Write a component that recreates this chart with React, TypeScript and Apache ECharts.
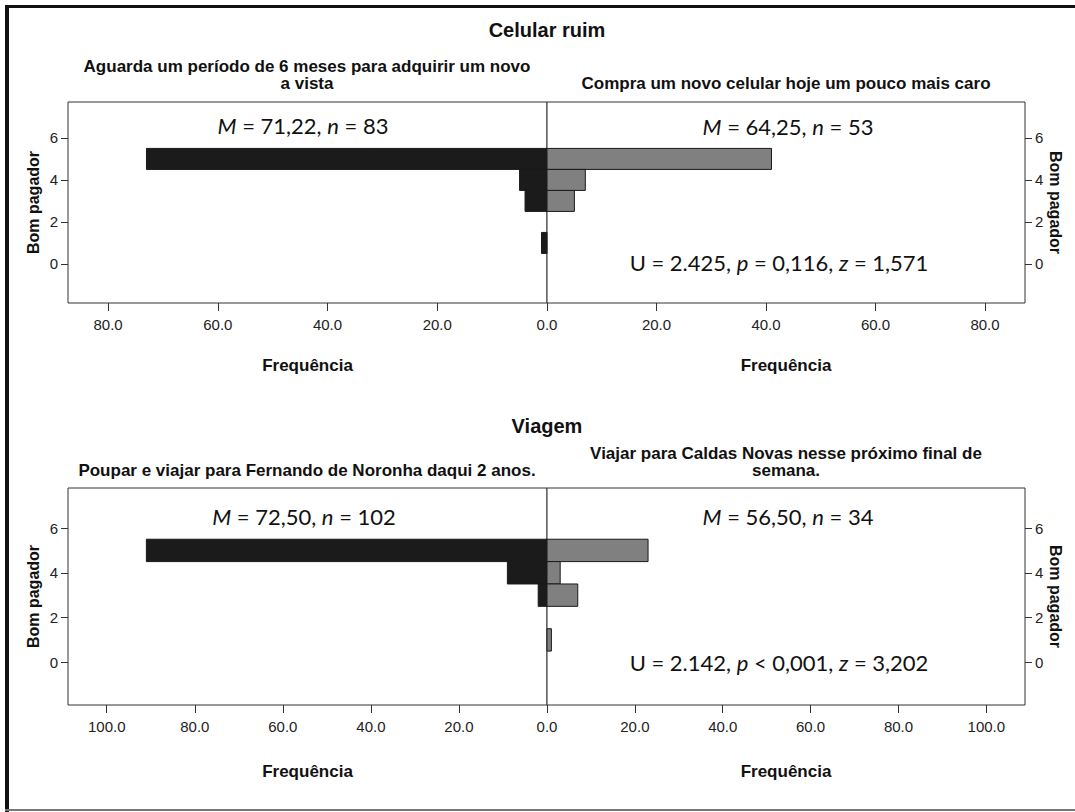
import React, { useEffect, useRef } from "react";
import * as echarts from "echarts";

// ---- data ----
const scores = [5, 4, 3, 1]; // "Bom pagador" score of each bar
const celularLeft = [73, 5, 4, 1]; // Aguarda um período de 6 meses...
const celularRight = [41, 7, 5, 0]; // Compra um novo celular hoje...
const viagemLeft = [91, 9, 2, 0]; // Poupar e viajar para Fernando de Noronha...
const viagemRight = [23, 3, 7, 1]; // Viajar para Caldas Novas...

const topTicks = [0, 20, 40, 60, 80];
const bottomTicks = [0, 20, 40, 60, 80, 100];
const yTicks = [0, 2, 4, 6];

const panelTitles = ["Celular ruim", "Viagem"];
const subTitles = [
  "Aguarda um período de 6 meses para adquirir um novo\na vista",
  "Compra um novo celular hoje um pouco mais caro",
  "Poupar e viajar para Fernando de Noronha daqui 2 anos.",
  "Viajar para Caldas Novas nesse próximo final de\nsemana.",
];
const statsTexts = [
  "{i|M} = 71,22, {i|n} = 83",
  "{i|M} = 64,25, {i|n} = 53",
  "U = 2.425, {i|p} = 0,116, {i|z} = 1,571",
  "{i|M} = 72,50, {i|n} = 102",
  "{i|M} = 56,50, {i|n} = 34",
  "U = 2.142, {i|p} < 0,001, {i|z} = 3,202",
];

const BLACK = "#1b1b1b";
const GRAY = "#808080";
const SANS = "Liberation Sans, Arial, sans-serif";
const CAL = "Lato, sans-serif";

function toPairs(vals: number[]) {
  return vals.map((v, i) => [v, scores[i]]);
}

export default function App() {
  const ref = useRef<HTMLDivElement>(null);
  useEffect(() => {
    if (!ref.current) return;
    const chart = echarts.init(ref.current, null, { renderer: "svg" });

    const grids = [
      { left: 68, top: 102, width: 479, height: 201 },
      { left: 547, top: 102, width: 478, height: 201 },
      { left: 68, top: 488, width: 479, height: 217 },
      { left: 547, top: 488, width: 478, height: 217 },
    ].map((g) => ({ ...g, show: true, borderColor: "#333", borderWidth: 1, backgroundColor: "#fff" }));

    const xMax = [87.3, 87.3, 108.8, 108.8];
    const yMin = [-1.86, -1.86, -1.91, -1.91];
    const yMax = [7.71, 7.71, 7.79, 7.79];
    const nameGapsX = [54, 54, 58, 58];

    const xAxis = grids.map((_, i) => {
      const ticks = i < 2 ? topTicks : bottomTicks;
      const vals = i % 2 === 0 ? ticks.filter((t) => t !== 0) : ticks;
      return {
        type: "value",
        gridIndex: i,
        min: 0,
        max: xMax[i],
        inverse: i % 2 === 0,
        axisLine: { show: false, onZero: false },
        axisTick: { show: true, length: 8, customValues: vals, lineStyle: { color: "#333" } },
        axisLabel: {
          show: true,
          customValues: vals,
          margin: 14,
          fontSize: 15,
          color: "#222",
          fontFamily: SANS,
          formatter: (v: number) => v.toFixed(1),
        },
        splitLine: { show: false },
        name: "Frequência",
        nameLocation: "middle",
        nameGap: nameGapsX[i],
        nameTextStyle: { fontSize: 17, fontWeight: "bold", color: "#111", fontFamily: SANS },
      };
    });

    const yAxis = grids.map((_, i) => {
      const right = i % 2 === 1;
      return {
        type: "value",
        gridIndex: i,
        min: yMin[i],
        max: yMax[i],
        position: right ? "right" : "left",
        axisLine: { show: false, onZero: false },
        axisTick: { show: true, length: 7, customValues: yTicks, lineStyle: { color: "#333" } },
        axisLabel: {
          show: true,
          customValues: yTicks,
          margin: 10,
          fontSize: 15,
          color: "#222",
          fontFamily: SANS,
        },
        splitLine: { show: false },
        name: "Bom pagador",
        nameLocation: "middle",
        nameRotate: right ? -90 : 90,
        nameGap: right ? 19 : 27,
        nameTextStyle: { fontSize: 16, fontWeight: "bold", color: "#111", fontFamily: SANS },
      };
    });

    const seriesData = [celularLeft, celularRight, viagemLeft, viagemRight];
    const series = seriesData.map((vals, i) => ({
      type: "custom",
      xAxisIndex: i,
      yAxisIndex: i,
      encode: { x: 0, y: 1 },
      data: toPairs(vals),
      renderItem: (params: any, api: any) => {
        const v = api.value(0);
        const y = api.value(1);
        if (!v) return null;
        const p0 = api.coord([0, y - 0.5]);
        const p1 = api.coord([v, y + 0.5]);
        return {
          type: "rect",
          shape: {
            x: Math.min(p0[0], p1[0]),
            y: Math.min(p0[1], p1[1]),
            width: Math.abs(p1[0] - p0[0]),
            height: Math.abs(p1[1] - p0[1]),
          },
          style: {
            fill: i % 2 === 0 ? BLACK : GRAY,
            stroke: "#1a1a1a",
            lineWidth: 1,
          },
        };
      },
    }));

    const statPos = [
      [303, 125],
      [788, 126],
      [779, 262],
      [304, 516],
      [788, 516],
      [779, 662],
    ];
    const subPos = [
      [307, 92],
      [786, 92],
      [307, 479],
      [786, 479],
    ];

    const graphic: any[] = [
      // outer frame
      { type: "line", shape: { x1: 5, y1: 6.5, x2: 1075, y2: 6.5 }, style: { stroke: "#111", lineWidth: 3 }, z: 10 },
      { type: "line", shape: { x1: 7, y1: 5, x2: 7, y2: 812 }, style: { stroke: "#111", lineWidth: 4 }, z: 10 },
      { type: "line", shape: { x1: 5, y1: 810, x2: 1075, y2: 810 }, style: { stroke: "#777", lineWidth: 2 }, z: 10 },
      // panel titles
      {
        type: "text",
        x: 547,
        y: 30,
        style: { text: panelTitles[0], fontSize: 20, fontWeight: "bold", fontFamily: SANS, fill: "#111", align: "center", verticalAlign: "middle" },
      },
      {
        type: "text",
        x: 547,
        y: 426,
        style: { text: panelTitles[1], fontSize: 20, fontWeight: "bold", fontFamily: SANS, fill: "#111", align: "center", verticalAlign: "middle" },
      },
      ...subTitles.map((t, i) => ({
        type: "text",
        x: subPos[i][0],
        y: subPos[i][1],
        style: {
          text: t,
          fontSize: 17,
          lineHeight: 17,
          fontWeight: "bold",
          fontFamily: SANS,
          fill: "#111",
          align: "center",
          verticalAlign: "bottom",
        },
      })),
      ...statsTexts.map((t, i) => ({
        type: "text",
        x: statPos[i][0],
        y: statPos[i][1],
        z: 20,
        style: {
          text: t,
          fontSize: 22,
          fontFamily: CAL,
          fill: "#111",
          align: "center",
          verticalAlign: "middle",
          rich: { i: { fontStyle: "italic", fontSize: 22, fontFamily: CAL, fill: "#111" } },
        },
      })),
    ];

    chart.setOption({
      animation: false,
      backgroundColor: "#fff",
      grid: grids,
      xAxis,
      yAxis,
      series,
      graphic,
    });
    return () => chart.dispose();
  }, []);
  return (
    <div
      ref={ref}
      style={{ position: "absolute", left: 0, top: 0, width: 1075, height: 812 }}
    />
  );
}
